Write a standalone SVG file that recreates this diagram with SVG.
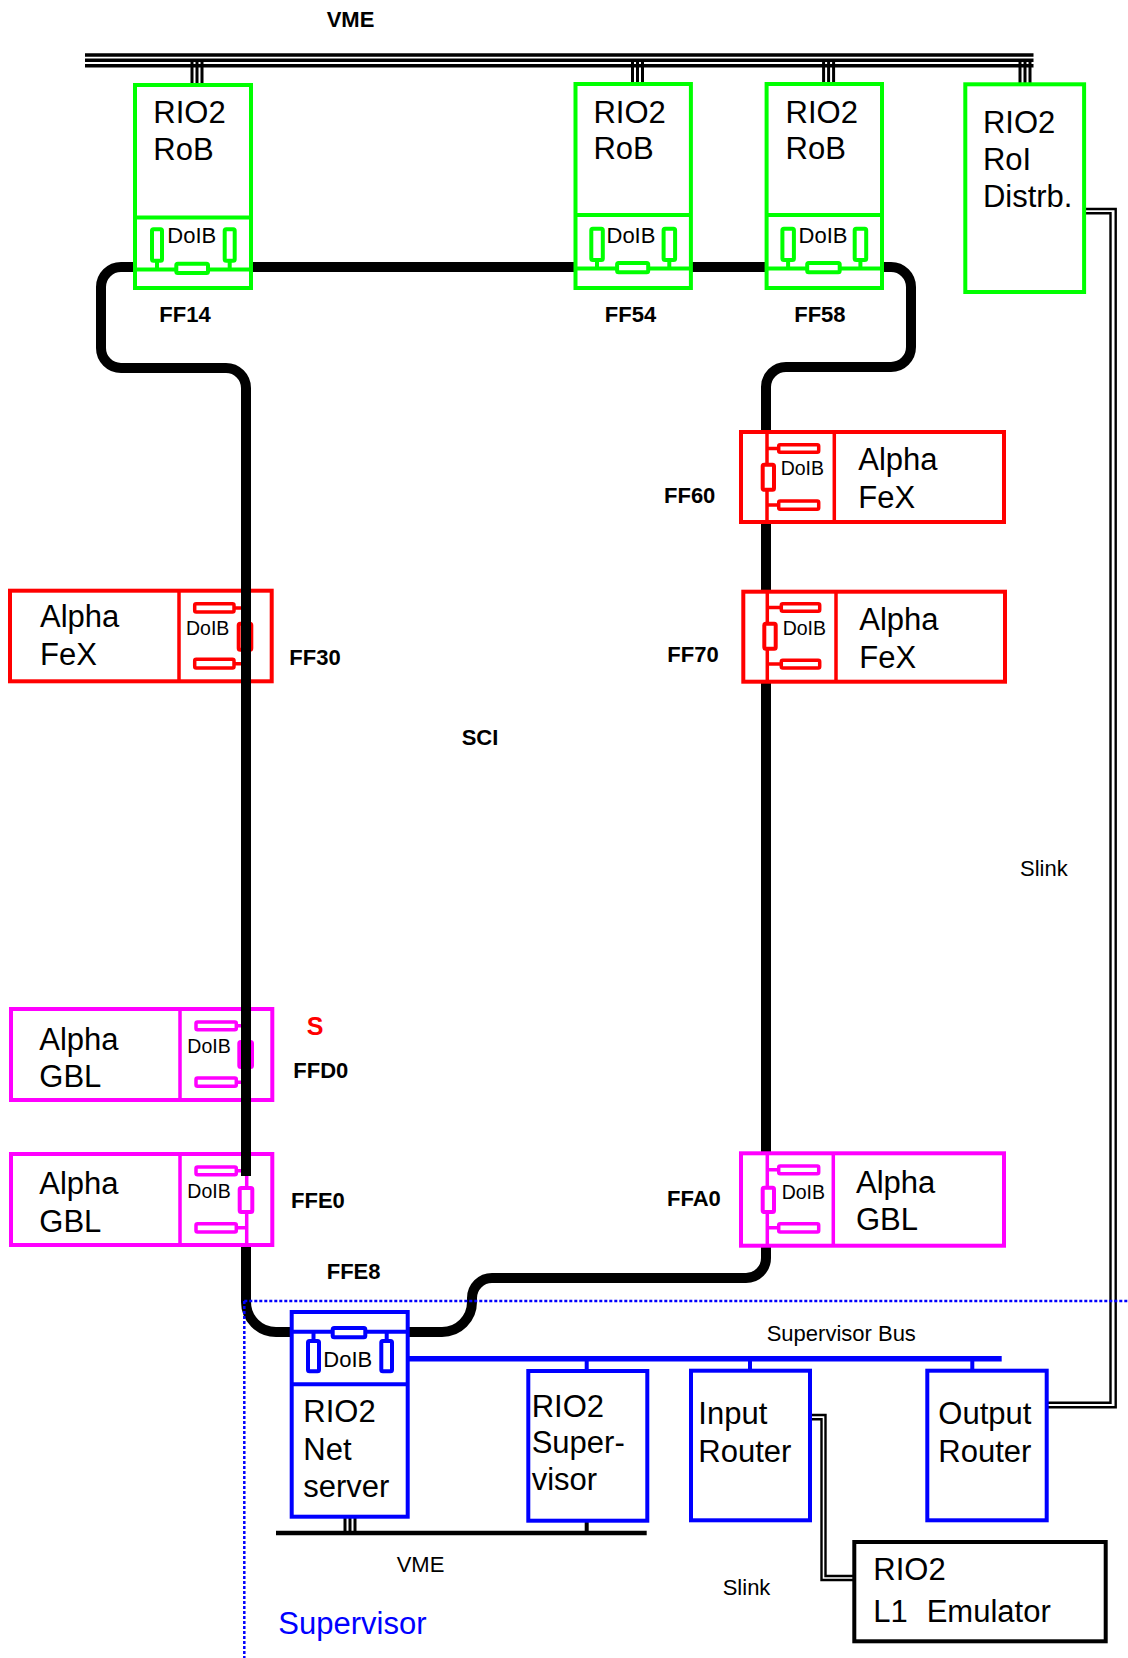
<svg xmlns="http://www.w3.org/2000/svg" width="1128" height="1658" viewBox="0 0 1128 1658">
<style>
text{font-family:"Liberation Sans",Arial,sans-serif;fill:#000}
.big{font-size:31px}
.dib{font-size:22px}
.dis{font-size:19.5px}
.lab{font-size:22px;font-weight:bold}
.sm{font-size:22px}
.g{stroke:#00ff00;stroke-width:4;fill:#fff}
.gl{stroke:#00ff00;stroke-width:4;fill:none}
.r{stroke:#ff0000;stroke-width:4;fill:#fff}
.rl{stroke:#ff0000;stroke-width:3.5;fill:none}
.m{stroke:#ff00ff;stroke-width:4;fill:#fff}
.ml{stroke:#ff00ff;stroke-width:3.5;fill:none}
.b{stroke:#0000ff;stroke-width:4;fill:#fff}
.bl{stroke:#0000ff;stroke-width:4;fill:none}
.k{stroke:#000;stroke-width:4;fill:#fff}
.stub{stroke:#000;stroke-width:3;fill:none}
.slink{stroke:#000;stroke-width:2.4;fill:none}
.dot{stroke:#0000ff;stroke-width:2.5;fill:none;stroke-dasharray:3 2}
</style>
<rect width="1128" height="1658" fill="#fff"/>

<g id="connectors">
  <!-- VME top bus -->
  <g id="vme-bus">
    <line x1="85" y1="55" x2="1033.5" y2="55" stroke="#000" stroke-width="3.4"/>
    <line x1="85" y1="60.2" x2="1033.5" y2="60.2" stroke="#000" stroke-width="3.4"/>
    <line x1="85" y1="65.7" x2="1033.5" y2="65.7" stroke="#000" stroke-width="3.4"/>
    <path class="stub" d="M192 62V85M197 62V85M202 62V85"/>
    <path class="stub" d="M632.5 62V84M637.5 62V84M642.5 62V84"/>
    <path class="stub" d="M823.6 62V84M828.6 62V84M833.6 62V84"/>
    <path class="stub" d="M1020 62V84M1025 62V84M1030 62V84"/>
  </g>
  <!-- SCI ring -->
  <path id="sci-ring" d="M121,267 H891 A20 20 0 0 1 911,287 V347 A20 20 0 0 1 891,367 H786 A20 20 0 0 0 766,387 V1258 A20 20 0 0 1 746,1278 H492 A20 20 0 0 0 472,1298 V1302 A30 30 0 0 1 442,1332 H276 A30 30 0 0 1 246,1302 V388 A20 20 0 0 0 226,368 H121 A20 20 0 0 1 101,348 V287 A20 20 0 0 1 121,267 Z" fill="none" stroke="#000" stroke-width="10" stroke-linejoin="round"/>
  <!-- Slink RoI -> Output Router -->
  <path class="slink" d="M1084 209H1115.7V1407.3H1048"/>
  <path class="slink" d="M1084 213.3H1110.5V1402.7H1048"/>
  <!-- Slink Input Router -> L1 -->
  <path class="slink" d="M810 1415H825.5V1576H853"/>
  <path class="slink" d="M810 1419.3H821.5V1580H853"/>
  <!-- Supervisor bus -->
  <line x1="402" y1="1358.7" x2="1001.7" y2="1358.7" stroke="#0000ff" stroke-width="5.5"/>
  <path class="bl" d="M586.7 1358V1371M750 1358V1371M972.3 1358V1371"/>
  <!-- lower VME -->
  <line x1="276" y1="1533" x2="646.7" y2="1533" stroke="#000" stroke-width="4.3"/>
  <path class="stub" d="M345 1517V1531M350 1517V1531M355 1517V1531"/>
  <line x1="586.7" y1="1520" x2="586.7" y2="1533" stroke="#000" stroke-width="4"/>
  <!-- supervisor boundary -->
  <path class="dot" d="M244.3 1301H1128M244.3 1301V1658"/>
</g>

<g id="rob-ff14">
  <rect class="g" x="135" y="85" width="116" height="203"/>
  <path class="gl" d="M135 217.5H251M135 269.5H251M157 262V269.5M229.7 262V269.5"/>
  <rect class="gl" x="152" y="229.3" width="10" height="31.4" rx="1.5"/>
  <rect class="gl" x="224.7" y="229.3" width="10" height="31.4" rx="1.5"/>
  <rect class="g" x="176.3" y="263.7" width="31.7" height="9.3" rx="1.5"/>
  <text class="big" x="153.3" y="123.3">RIO2</text>
  <text class="big" x="153.3" y="160">RoB</text>
  <text class="dib" x="167.3" y="243.3">DoIB</text>
</g>
<g id="rob-ff54">
  <rect class="g" x="575.5" y="84" width="115.4" height="204"/>
  <path class="gl" d="M575.5 215H690.9M575.5 268.5H690.9M597 261V268.5M669.3 261V268.5"/>
  <rect class="gl" x="591.3" y="228.7" width="11.5" height="31.3" rx="1.5"/>
  <rect class="gl" x="663.6" y="228.7" width="11.5" height="31.3" rx="1.5"/>
  <rect class="g" x="617.1" y="263" width="31.1" height="9.3" rx="1.5"/>
  <text class="big" x="593.4" y="122.7">RIO2</text>
  <text class="big" x="593.4" y="159.3">RoB</text>
  <text class="dib" x="606.5" y="242.7">DoIB</text>
</g>
<g id="rob-ff58">
  <rect class="g" x="766.6" y="84" width="115.4" height="204"/>
  <path class="gl" d="M766.6 215H882M766.6 268.5H882M788.1 261V268.5M860.4 261V268.5"/>
  <rect class="gl" x="782.4" y="228.7" width="11.5" height="31.3" rx="1.5"/>
  <rect class="gl" x="854.7" y="228.7" width="11.5" height="31.3" rx="1.5"/>
  <rect class="g" x="807.2" y="263" width="32.5" height="9.3" rx="1.5"/>
  <text class="big" x="785.6" y="122.7">RIO2</text>
  <text class="big" x="785.6" y="159.3">RoB</text>
  <text class="dib" x="798.6" y="242.7">DoIB</text>
</g>
<g id="roi-distrb">
  <rect class="g" x="965.3" y="84.3" width="118.8" height="207.7"/>
  <text class="big" x="982.9" y="132.7">RIO2</text>
  <text class="big" x="982.9" y="170">RoI</text>
  <text class="big" x="982.9" y="206.7">Distrb.</text>
</g>

<g id="fex-ff30">
  <rect class="r" x="10" y="590.7" width="261.7" height="90.6"/>
  <path class="rl" d="M179 590.7V681.3M234 608H246M234 663.7H246M246 590.7V681.3"/>
  <rect class="rl" x="194.7" y="603.7" width="39.3" height="8.3" rx="1.5"/>
  <rect class="rl" x="194.7" y="659.3" width="39.3" height="8.7" rx="1.5"/>
  <rect class="r" x="238.7" y="623.7" width="12.6" height="26" rx="1.5"/>
  <text class="big" x="40" y="627.3">Alpha</text>
  <text class="big" x="40" y="665">FeX</text>
  <text class="dis" x="186" y="635">DoIB</text>
</g>
<g id="fex-ff60">
  <rect class="r" x="741" y="432" width="263" height="90"/>
  <path class="rl" d="M834.3 432V522M767 432V522M767 448.5H778.7M767 505H778.7"/>
  <rect class="rl" x="778.7" y="444.7" width="40" height="7.6" rx="1.5"/>
  <rect class="rl" x="778.7" y="501" width="40" height="8.3" rx="1.5"/>
  <rect class="r" x="762.7" y="464.7" width="11.3" height="25" rx="1.5"/>
  <text class="big" x="858.3" y="470">Alpha</text>
  <text class="big" x="858.3" y="508.3">FeX</text>
  <text class="dis" x="780.7" y="475">DoIB</text>
</g>
<g id="fex-ff70">
  <rect class="r" x="743.3" y="591.7" width="261.7" height="90"/>
  <path class="rl" d="M836 591.7V681.7M767.3 591.7V681.7M767.3 607.5H781.3M767.3 664H781.3"/>
  <rect class="rl" x="781.3" y="603.7" width="38.4" height="7.6" rx="1.5"/>
  <rect class="rl" x="781.3" y="660.3" width="38.4" height="7.7" rx="1.5"/>
  <rect class="r" x="764.3" y="623.7" width="11.4" height="25" rx="1.5"/>
  <text class="big" x="859.3" y="630">Alpha</text>
  <text class="big" x="859.3" y="668.3">FeX</text>
  <text class="dis" x="782.7" y="635">DoIB</text>
</g>

<g id="gbl-ffd0">
  <rect class="m" x="11" y="1009" width="261.3" height="91"/>
  <path class="ml" d="M180 1009V1100M236.3 1025.8H246.7M236.3 1082.2H246.7M246.7 1009V1100"/>
  <rect class="ml" x="196" y="1022" width="40.3" height="7.7" rx="1.5"/>
  <rect class="ml" x="196" y="1078" width="40.3" height="8.3" rx="1.5"/>
  <rect class="m" x="239.3" y="1042" width="12.7" height="25" rx="1.5"/>
  <text class="big" x="39.3" y="1050">Alpha</text>
  <text class="big" x="39.3" y="1086.7">GBL</text>
  <text class="dis" x="187.3" y="1053.3">DoIB</text>
</g>
<g id="gbl-ffe0">
  <rect class="m" x="11" y="1154" width="261.3" height="91"/>
  <path class="ml" d="M180 1154V1245M236.3 1170.8H246.7M236.3 1227.8H246.7M246.7 1154V1245"/>
  <rect class="ml" x="196" y="1167" width="40.3" height="7.7" rx="1.5"/>
  <rect class="ml" x="196" y="1223.7" width="40.3" height="8.3" rx="1.5"/>
  <rect class="m" x="239.7" y="1188" width="12.6" height="24" rx="1.5"/>
  <text class="big" x="39.3" y="1194">Alpha</text>
  <text class="big" x="39.3" y="1231.7">GBL</text>
  <text class="dis" x="187.3" y="1198.3">DoIB</text>
</g>
<g id="gbl-ffa0">
  <rect class="m" x="741" y="1153.3" width="263" height="92.4"/>
  <path class="ml" d="M833.3 1153.3V1245.7M767.3 1153.3V1245.7M767.3 1169.8H778.7M767.3 1227.8H778.7"/>
  <rect class="ml" x="778.7" y="1166" width="40" height="7.7" rx="1.5"/>
  <rect class="ml" x="778.7" y="1223.7" width="40" height="8.3" rx="1.5"/>
  <rect class="m" x="762.7" y="1187.7" width="11.3" height="24.3" rx="1.5"/>
  <text class="big" x="856" y="1193.3">Alpha</text>
  <text class="big" x="856" y="1230">GBL</text>
  <text class="dis" x="781.7" y="1199">DoIB</text>
</g>

<!-- SCI ring overlay over left DoIB boxes -->
<line id="sci-overlay" x1="246" y1="585" x2="246" y2="1176" stroke="#000" stroke-width="10"/>

<g id="net-server">
  <rect class="b" x="291.7" y="1312" width="116" height="204.7"/>
  <path class="bl" d="M291.7 1384.3H407.7M291.7 1331.7H407.7M313.5 1331.7V1341M386.7 1331.7V1341"/>
  <rect class="b" x="332.7" y="1328" width="32.6" height="9.3" rx="1.5"/>
  <rect class="bl" x="308" y="1341" width="11" height="30.3" rx="1.5"/>
  <rect class="bl" x="381.3" y="1341" width="10.7" height="30.3" rx="1.5"/>
  <text class="dib" x="323.3" y="1367.3">DoIB</text>
  <text class="big" x="303.3" y="1422.3">RIO2</text>
  <text class="big" x="303.3" y="1460">Net</text>
  <text class="big" x="303.3" y="1496.7">server</text>
</g>
<g id="rio2-supervisor">
  <rect class="b" x="528.3" y="1371" width="119" height="149.7"/>
  <text class="big" x="531.7" y="1416.7">RIO2</text>
  <text class="big" x="531.7" y="1453.3">Super-</text>
  <text class="big" x="531.7" y="1490">visor</text>
</g>
<g id="input-router">
  <rect class="b" x="691" y="1370.7" width="119" height="149.6"/>
  <text class="big" x="698.3" y="1424.3">Input</text>
  <text class="big" x="698.3" y="1461.7">Router</text>
</g>
<g id="output-router">
  <rect class="b" x="927.3" y="1370.7" width="119.4" height="149.6"/>
  <text class="big" x="938.3" y="1424.3">Output</text>
  <text class="big" x="938.3" y="1461.7">Router</text>
</g>
<g id="l1-emulator">
  <rect class="k" x="854.3" y="1542" width="251.4" height="99.3"/>
  <text class="big" x="873.3" y="1580">RIO2</text>
  <text class="big" x="873.3" y="1621.7">L1<tspan x="926.7">Emulator</tspan></text>
</g>

<g id="labels">
  <text class="lab" x="326.7" y="26.7">VME</text>
  <text class="lab" x="159.3" y="321.7">FF14</text>
  <text class="lab" x="604.8" y="321.7">FF54</text>
  <text class="lab" x="794.2" y="321.7">FF58</text>
  <text class="lab" x="664" y="502.7">FF60</text>
  <text class="lab" x="289.3" y="665">FF30</text>
  <text class="lab" x="667.3" y="661.7">FF70</text>
  <text class="lab" x="461.7" y="745">SCI</text>
  <text class="sm" x="1020" y="876">Slink</text>
  <text x="306.7" y="1035" style="font-size:25px;font-weight:bold;fill:#ff0000">S</text>
  <text class="lab" x="293.3" y="1078.3">FFD0</text>
  <text class="lab" x="291" y="1208.3">FFE0</text>
  <text class="lab" x="667" y="1206">FFA0</text>
  <text class="lab" x="326.7" y="1279">FFE8</text>
  <text class="sm" x="766.7" y="1340.7">Supervisor Bus</text>
  <text class="sm" x="396.7" y="1571.7">VME</text>
  <text class="sm" x="722.7" y="1595">Slink</text>
  <text x="278.3" y="1634" style="font-size:31px;fill:#0000ff">Supervisor</text>
</g>
</svg>
